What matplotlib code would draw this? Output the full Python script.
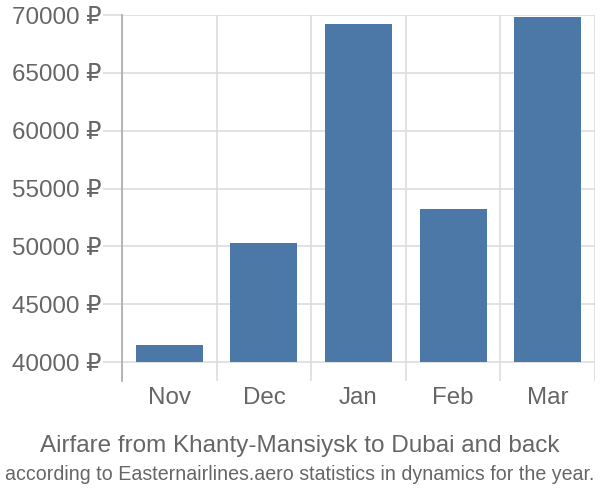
import numpy as np
from matplotlib import pyplot as plt

months = ["Nov", "Dec", "Jan", "Feb", "Mar"]
prices = [41500, 50300, 69200, 53200, 69800]
y_ticks = [40000, 45000, 50000, 55000, 60000, 65000, 70000]
base = 40000

BAR_COLOR = "#4c78a8"
GRID_COLOR = "#dddddd"
TEXT_COLOR = "#666666"

plt.rcParams["font.family"] = ["Liberation Sans", "DejaVu Sans"]

fig = plt.figure(figsize=(6, 5), dpi=100)
ax = fig.add_axes([122 / 600, 1 - 381 / 500, 473 / 600, 366 / 500])

x = np.arange(len(months))
heights = [p - base for p in prices]
ax.bar(x, heights, bottom=base, width=0.71, color=BAR_COLOR, zorder=3)

ax.set_xlim(-0.5, len(months) - 0.5)
ax.set_ylim(38360, 70000)

ax.set_yticks(y_ticks)
ax.set_yticklabels([f"{v} ₽" for v in y_ticks])
ax.set_xticks(x)
ax.set_xticklabels(months)
ax.set_xticks(np.arange(-0.5, len(months), 1), minor=True)

ax.grid(axis="y", which="major", color=GRID_COLOR, linewidth=1.2, zorder=0)
ax.grid(axis="x", which="minor", color=GRID_COLOR, linewidth=1.2, zorder=0)

for side in ["top", "right", "bottom"]:
    ax.spines[side].set_visible(False)
ax.spines["left"].set_color("#aaaaaa")
ax.spines["left"].set_linewidth(1.2)

ax.tick_params(axis="y", length=14, color=GRID_COLOR, width=1.2,
               labelsize=17.4, labelcolor=TEXT_COLOR, pad=1)
ax.tick_params(axis="x", which="major", length=0, labelsize=17.4,
               labelcolor=TEXT_COLOR, pad=4)
ax.tick_params(axis="x", which="minor", length=0)

fig.text(0.5, 1 - 446 / 500, "Airfare from Khanty-Mansiysk to Dubai and back",
         ha="center", va="center", fontsize=17.5, color=TEXT_COLOR)
fig.text(0.5, 1 - 475 / 500,
         "according to Easternairlines.aero statistics in dynamics for the year.",
         ha="center", va="center", fontsize=14.1, color=TEXT_COLOR)

fig.savefig("out.png", dpi=100)
